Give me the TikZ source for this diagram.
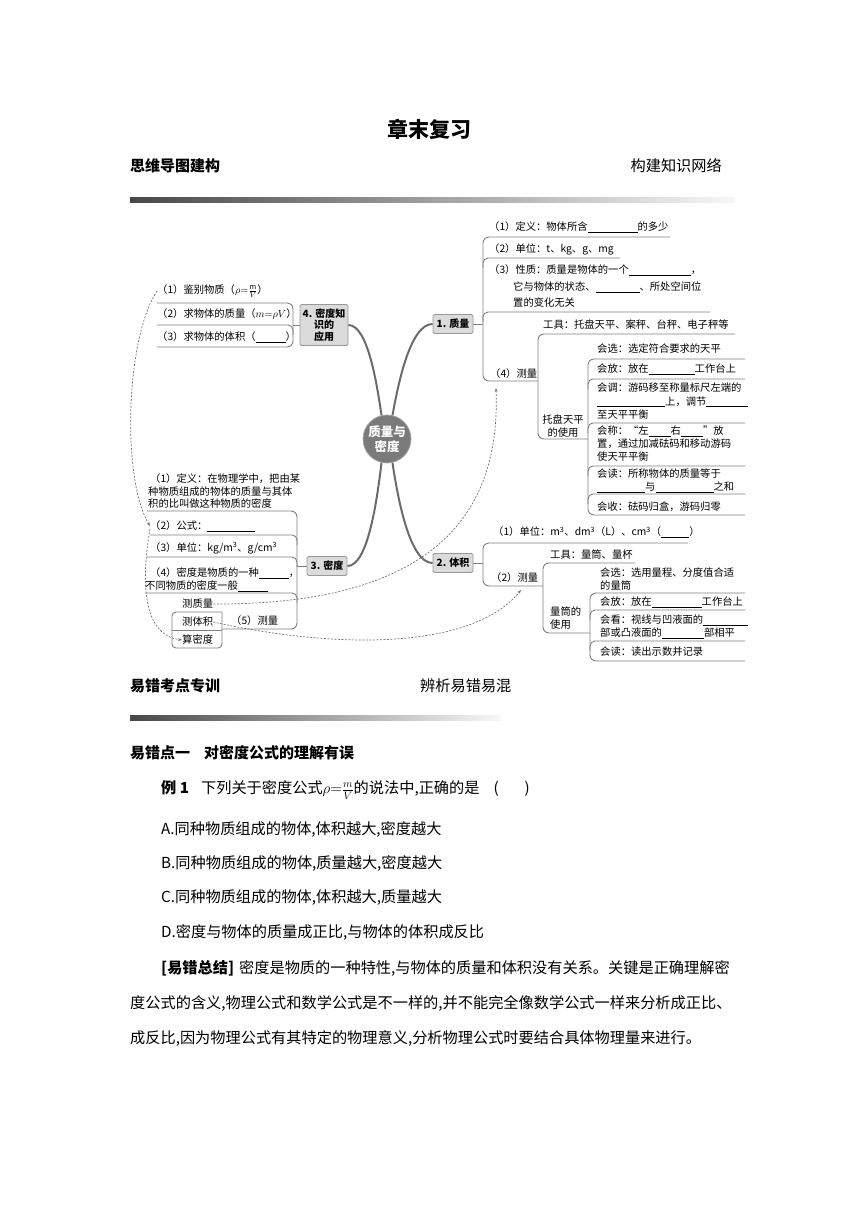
\RequirePackage{fix-cm}
\documentclass[tikz,border=0pt]{standalone}
\usepackage{fontspec}
\setmainfont{Noto Sans CJK SC}
\usetikzlibrary{arrows.meta}
\newcommand{\bk}[1]{\rule[-1.5pt]{#1pt}{0.6pt}}
\tikzset{
  mm/.style={anchor=west, inner sep=0pt, font=\fontsize{10.3}{12}\selectfont},
  body/.style={anchor=west, inner sep=0pt, font=\fontsize{15.2}{18}\selectfont},
  bodyb/.style={anchor=west, inner sep=0pt, font=\fontsize{15}{18}\selectfont\bfseries},
  ul/.style={draw=black!50, line width=0.9pt},
  br/.style={draw=black!58, line width=2pt},
  topic/.style={draw=black!40, fill=black!14, rounded corners=1.5pt, line width=0.8pt, inner sep=2pt, font=\fontsize{10}{12}\selectfont\bfseries, minimum height=19pt, minimum width=40pt, align=center},
  rel/.style={draw=black!55, dash pattern=on 2pt off 1.5pt, line width=0.7pt},
  reltip/.style={-{Stealth[length=4pt,width=3pt]}},
}
\begin{document}
\begin{tikzpicture}[x=1pt,y=-1pt]
\useasboundingbox (0,0) rectangle (860,1216);
% ---------- header ----------
\node[font=\fontsize{21}{24}\selectfont\bfseries] (title) at (429,129) {章末复习};
\node[bodyb] (s1) at (130,166) {思维导图建构};
\node[body, anchor=east] (s1r) at (722,166) {构建知识网络};
\shade[left color=black!72, right color=black!3] (130,197) rectangle (735,202);
% ---------- center and topics ----------
\node[circle, fill=black!52, draw=black!35, line width=0.8pt, minimum size=48pt, inner sep=0pt, text=white, font=\fontsize{12.5}{14.5}\selectfont\bfseries, align=center] (c) at (387,439) {质量与\\密度};
\node[topic] (t1) at (453,324) {1. 质量};
\node[topic] (t2) at (453,563) {2. 体积};
\node[topic] (t3) at (327,566) {3. 密度};
\node[topic, minimum width=48pt, minimum height=41pt, inner sep=1pt, font=\fontsize{10}{11.5}\selectfont\bfseries] (t4) at (324,325) {4. 密度知\\识的\\应用};
\draw[br] (t4.east) .. controls (368,325) and (377,385) .. (c.103);
\draw[br] (t1.west) .. controls (410,324) and (398,385) .. (c.77);
\draw[br] (t3.east) .. controls (368,566) and (377,500) .. (c.257);
\draw[br] (t2.west) .. controls (410,563) and (398,500) .. (c.283);
% ---------- branch 1: mass ----------
\coordinate (j1) at (483,324);
\draw[ul] (t1.east) -- (j1);
\draw[ul, rounded corners=6pt] (670,237) -- (483,237) -- (483,381) -- (538,381);
\draw[ul, rounded corners=5pt] (620,258) -- (483,258) -- (483,268);
\draw[ul, rounded corners=5pt] (710,312) -- (483,312) -- (483,322);
\node[mm] (m1) at (489,227) {（1）定义：物体所含\bk{50}的多少};
\node[mm] (m2) at (489,249) {（2）单位：t、kg、g、mg};
\node[mm] (m3a) at (489,270) {（3）性质：质量是物体的一个\bk{62}，};
\node[mm] (m3b) at (513,287) {它与物体的状态、\bk{44}、所处空间位};
\node[mm] (m3c) at (513,303) {置的变化无关};
\node[mm] (m4) at (490,374) {（4）测量};
\coordinate (m4in) at (496,388);
% measure sub
\draw[ul, rounded corners=6pt] (735,334) -- (538,334) -- (538,439) -- (588,439);
\node[mm] (m4t) at (543,325) {工具：托盘天平、案秤、台秤、电子秤等};
\node[mm, anchor=center, align=center, font=\fontsize{10.3}{13.5}\selectfont] (m4u) at (563,426) {托盘天平\\的使用};
\draw[ul, rounded corners=6pt] (745,359) -- (588,359) -- (588,515) -- (745,515);
\draw[ul, rounded corners=5pt] (745,379) -- (588,379) -- (588,389);
\draw[ul, rounded corners=5pt] (745,423) -- (588,423) -- (588,433);
\draw[ul, rounded corners=5pt] (745,466) -- (588,466) -- (588,476);
\draw[ul, rounded corners=5pt] (745,494) -- (588,494) -- (588,504);
\node[mm] (u1) at (597,349) {会选：选定符合要求的天平};
\node[mm] (u2) at (597,369) {会放：放在\bk{46}工作台上};
\node[mm] (u3a) at (597,388) {会调：游码移至称量标尺左端的};
\node[mm] (u3b) at (597,402) {\bk{68}上，调节\bk{42}};
\node[mm] (u3c) at (597,415) {至天平平衡};
\node[mm] (u4a) at (597,431) {会称：“左\bk{22}右\bk{22}”放};
\node[mm] (u4b) at (597,444) {置，通过加减砝码和移动游码};
\node[mm] (u4c) at (597,457) {使天平平衡};
\node[mm] (u5a) at (597,474) {会读：所称物体的质量等于};
\node[mm] (u5b) at (597,487) {\bk{48}与\bk{58}之和};
\node[mm] (u6) at (597,507) {会收：砝码归盒，游码归零};
% ---------- branch 2: volume ----------
\coordinate (j2) at (483,563);
\draw[ul] (t2.east) -- (j2);
\draw[ul, rounded corners=6pt] (688,543) -- (483,543) -- (483,586) -- (543,586);
\node[mm] (v1) at (493,532) {（1）单位：m\textsuperscript{3}、dm\textsuperscript{3}（L）、cm\textsuperscript{3}（\bk{28}）};
\node[mm] (v2) at (491,578) {（2）测量};
\coordinate (v2in) at (521,590);
\draw[ul, rounded corners=6pt] (635,563) -- (543,563) -- (543,633) -- (590,633);
\node[mm] (v2t) at (550,555) {工具：量筒、量杯};
\node[mm, align=left, font=\fontsize{10.3}{13.5}\selectfont] (v2u) at (550,618) {量筒的\\使用};
\draw[ul, rounded corners=6pt] (745,593) -- (590,593) -- (590,661) -- (745,661);
\draw[ul, rounded corners=5pt] (745,610) -- (590,610) -- (590,620);
\draw[ul, rounded corners=5pt] (745,641) -- (590,641) -- (590,651);
\node[mm] (w1a) at (600,573) {会选：选用量程、分度值合适};
\node[mm] (w1b) at (600,586) {的量筒};
\node[mm] (w2) at (600,602) {会放：放在\bk{50}工作台上};
\node[mm] (w3a) at (600,620) {会看：视线与凹液面的\bk{45}};
\node[mm] (w3b) at (600,633) {部或凸液面的\bk{42}部相平};
\node[mm] (w4) at (600,652) {会读：读出示数并记录};
% ---------- branch 3: density ----------
\coordinate (j3) at (297,566);
\draw[ul] (t3.west) -- (j3);
\draw[ul, rounded corners=6pt] (147,511) -- (297,511) -- (297,629) -- (222,629);
\draw[ul, rounded corners=5pt] (150,535) -- (297,535) -- (297,545);
\draw[ul, rounded corners=5pt] (147,557) -- (297,557) -- (297,567);
\draw[ul, rounded corners=5pt] (145,593) -- (297,593) -- (297,603);
\node[mm] (d1a) at (150,479) {（1）定义：在物理学中，把由某};
\node[mm] (d1b) at (148,492) {种物质组成的物体的质量与其体};
\node[mm] (d1c) at (148,504) {积的比叫做这种物质的密度};
\node[mm] (d2) at (150,526) {（2）公式：\bk{48}};
\node[mm] (d3) at (150,548) {（3）单位：kg/m\textsuperscript{3}、g/cm\textsuperscript{3}};
\node[mm] (d4a) at (150,573) {（4）密度是物质的一种\bk{30}，};
\node[mm] (d4b) at (145,586) {不同物质的密度一般\bk{30}};
\node[mm] (d5) at (231,621) {（5）测量};
\draw[ul, rounded corners=4pt] (222,612) -- (172,612) -- (172,648) -- (222,648) -- (222,612);
\draw[ul] (172,630) -- (222,630);
\node[mm] (k1) at (182,604) {测质量};
\node[mm] (k2) at (182,622) {测体积};
\node[mm] (k3) at (182,640) {算密度};
% ---------- branch 4: application ----------
\coordinate (j4) at (293,325);
\draw[ul] (t4.west) -- (j4);
\draw[ul, rounded corners=6pt] (157,303) -- (293,303) -- (293,347) -- (157,347);
\draw[ul, rounded corners=5pt] (157,325) -- (293,325) -- (293,335);
\node[mm] (a1) at (157,291) {（1）鉴别物质（$\rho{=}\frac{\mathrm{\scriptstyle m}}{V}$）};
\node[mm] (a2) at (157,314) {（2）求物体的质量（$m{=}\rho V$）};
\node[mm] (a3) at (157,337) {（3）求物体的体积（\bk{30}）};
% ---------- dashed relations ----------
\draw[rel, reltip] (a1.west) .. controls (125,340) and (122,480) .. (d2.west);
\draw[rel, reltip] ([yshift=-3pt]d2.west) .. controls (138,600) and (150,636) .. (k3.west);
\draw[rel, reltip] (k1.east) .. controls (450,605) and (500,500) .. (m4in);
\draw[rel, reltip] (k2.east) .. controls (330,648) and (470,652) .. (v2in);
% ---------- lower text ----------
\node[bodyb] (s2) at (130,686) {易错考点专训};
\node[body] (s2r) at (420,686) {辨析易错易混};
\shade[left color=black!72, right color=black!3] (130,715) rectangle (500,720);
\node[bodyb] (e1) at (130,753) {易错点一\hspace{14pt}对密度公式的理解有误};
\node[body] (ex) at (161,790) {{\bfseries 例 1}\hspace{12pt}下列关于密度公式$\rho{=}\frac{m}{V}$的说法中,正确的是\hspace{14pt}(\hspace{26pt})};
\node[body] (oa) at (161,829) {A.同种物质组成的物体,体积越大,密度越大};
\node[body] (ob) at (161,863) {B.同种物质组成的物体,质量越大,密度越大};
\node[body] (oc) at (161,898) {C.同种物质组成的物体,体积越大,质量越大};
\node[body] (od) at (161,932) {D.密度与物体的质量成正比,与物体的体积成反比};
\node[body] (sm1) at (161,968) {{\bfseries [易错总结]}\hspace{5pt}密度是物质的一种特性,与物体的质量和体积没有关系。关键是正确理解密};
\node[body] (sm2) at (130,1003) {度公式的含义,物理公式和数学公式是不一样的,并不能完全像数学公式一样来分析成正比、};
\node[body] (sm3) at (130,1038) {成反比,因为物理公式有其特定的物理意义,分析物理公式时要结合具体物理量来进行。};
\end{tikzpicture}
\end{document}
